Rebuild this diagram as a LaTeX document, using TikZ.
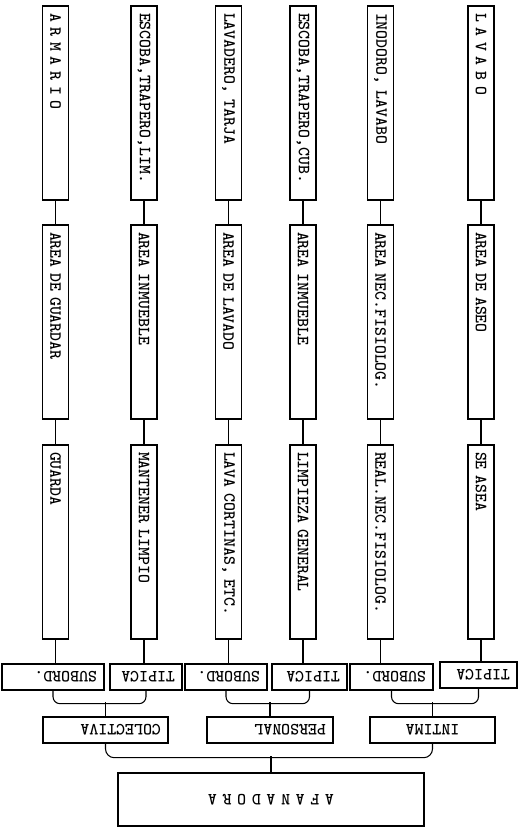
\documentclass[tikz,border=0pt]{standalone}
\usepackage{fontspec}
\usepackage{graphicx}
\newcommand{\updn}[1]{\rotatebox{180}{#1}}

\begin{document}
\begin{tikzpicture}[
    x=0.02cm, y=-0.02cm,
    tall/.style={draw, thick, rotate=-90, text width=3.6cm, inner xsep=0.14cm, inner ysep=1pt, minimum height=0.52cm, align=left, font=\ttfamily\bfseries\fontsize{9.7}{11}\selectfont},
    flat/.style={draw, thick, inner xsep=0.14cm, inner ysep=1pt, minimum height=0.52cm, align=right, font=\ttfamily\bfseries\fontsize{9.7}{11}\selectfont},
    lnk/.style={semithick}
]
\useasboundingbox (0,0) rectangle (530,833);
% objetos
\node[tall] (arm) at (55.5,103) {A R M A R I O};
\node[tall] (esc1) at (144,103) {ESCOBA,TRAPERO,LIM.};
\node[tall] (lavd) at (228.5,103) {LAVADERO, TARJA};
\node[tall] (esc2) at (303,103) {ESCOBA,TRAPERO,CUB.};
\node[tall] (inod) at (380.5,103) {INODORO, LAVABO};
\node[tall] (lavb) at (481,103) {L A V A B O};
% areas
\node[tall] (ag) at (55.5,322) {AREA DE GUARDAR};
\node[tall] (ai1) at (144,322) {AREA INMUEBLE};
\node[tall] (al) at (228.5,322) {AREA DE LAVADO};
\node[tall] (ai2) at (303,322) {AREA INMUEBLE};
\node[tall] (an) at (380.5,322) {AREA NEC.FISIOLOG.};
\node[tall] (aa) at (481,322) {AREA DE ASEO};
% actividades
\node[tall] (gu) at (55.5,542) {GUARDA};
\node[tall] (ml) at (144,542) {MANTENER LIMPIO};
\node[tall] (lc) at (228.5,542) {LAVA CORTINAS, ETC.};
\node[tall] (lg) at (303,542) {LIMPIEZA GENERAL};
\node[tall] (rn) at (380.5,542) {REAL.NEC.FISIOLOG.};
\node[tall] (sa) at (481,542) {SE ASEA};
% tipo de actividad
\node[flat, text width=1.76cm] (sub1) at (53,677) {\updn{SUBORD.}};
\node[flat, text width=1.16cm] (tip1) at (146,677) {\updn{TIPICA}};
\node[flat, text width=1.36cm] (sub2) at (226,677) {\updn{SUBORD.}};
\node[flat, text width=1.22cm] (tip2) at (309.5,677) {\updn{TIPICA}};
\node[flat, text width=1.38cm] (sub3) at (391.5,677) {\updn{SUBORD.}};
\node[flat, text width=1.26cm] (tip3) at (478.5,675) {\updn{TIPICA}};
% zonas
\node[flat, text width=2.22cm] (col) at (105.5,730) {\updn{COLECTIVA}};
\node[flat, text width=2.24cm] (per) at (270,730) {\updn{PERSONAL}};
\node[flat, text width=2.22cm, align=center] (int) at (432.5,730) {\updn{INTIMA}};
\node[flat, text width=5.84cm, minimum height=1.06cm, align=center] (afa) at (271,799.5) {\updn{A F A N A D O R A}};

\draw[lnk] (arm.east) -- (ag.west);
\draw[lnk] (esc1.east) -- (ai1.west);
\draw[lnk] (lavd.east) -- (al.west);
\draw[lnk] (esc2.east) -- (ai2.west);
\draw[lnk] (inod.east) -- (an.west);
\draw[lnk] (lavb.east) -- (aa.west);
\draw[lnk] (ag.east) -- (gu.west);
\draw[lnk] (ai1.east) -- (ml.west);
\draw[lnk] (al.east) -- (lc.west);
\draw[lnk] (ai2.east) -- (lg.west);
\draw[lnk] (an.east) -- (rn.west);
\draw[lnk] (aa.east) -- (sa.west);
\draw[lnk] (gu.east) -- (gu.east |- sub1.north);
\draw[lnk] (ml.east) -- (ml.east |- tip1.north);
\draw[lnk] (lc.east) -- (lc.east |- sub2.north);
\draw[lnk] (lg.east) -- (lg.east |- tip2.north);
\draw[lnk] (rn.east) -- (rn.east |- sub3.north);
\draw[lnk] (sa.east) -- (sa.east |- tip3.north);

\draw[lnk, rounded corners=4pt] (sub1.south) -- ++(0,13) -| (tip1.south);
\draw[lnk, rounded corners=4pt] (sub2.south) -- ++(0,13) -| (tip2.south);
\draw[lnk, rounded corners=4pt] (sub3.south) -- ++(0,13) -| (tip3.south);
\draw[lnk] (col.north) -- ++(0,-14);
\draw[lnk] (per.north) -- ++(0,-14);
\draw[lnk] (int.north) -- ++(0,-14);
\draw[lnk, rounded corners=5pt] (col.south) -- ++(0,14) -| (int.south);
\draw[lnk] (afa.north) -- ++(0,-16);
\end{tikzpicture}
\end{document}
